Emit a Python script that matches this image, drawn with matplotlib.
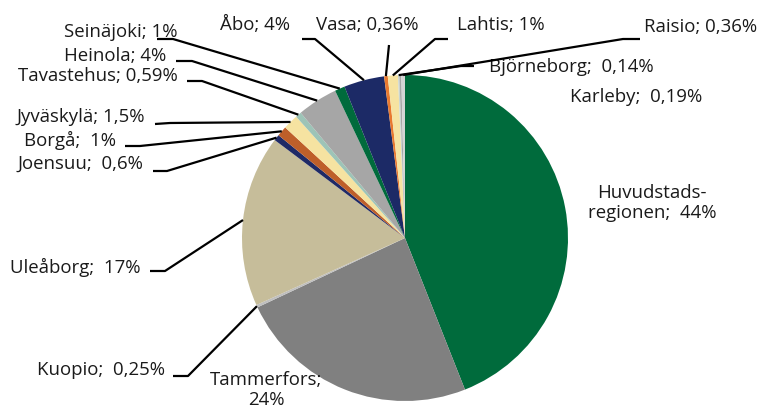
import numpy as np
import matplotlib
matplotlib.use("Agg")
import matplotlib.pyplot as plt

# ---- data ----
labels = ["Huvudstads-\nregionen", "Tammerfors", "Kuopio", "Uleåborg", "Joensuu", "Borgå",
          "Jyväskylä", "Tavastehus", "Heinola", "Seinäjoki", "Åbo", "Vasa", "Lahtis",
          "Björneborg", "Karleby", "Raisio"]
values = [44, 24, 0.25, 17, 0.6, 1, 1.5, 0.59, 4, 1, 4, 0.36, 1, 0.14, 0.19, 0.36]
value_texts = ["44%", "24%", "0,25%", "17%", "0,6%", "1%", "1,5%", "0,59%", "4%", "1%",
               "4%", "0,36%", "1%", "0,14%", "0,19%", "0,36%"]
colors = ["#006B3C", "#808080", "#BFBFBF", "#C6BD9A", "#1F2A66", "#BE5F2A", "#F6E3A1",
          "#9DC4B7", "#A6A6A6", "#006B3C", "#1C2A66", "#E8792F", "#F6E3A1", "#C9D5D1",
          "#A6A6A6", "#D4D4D4"]

W, H = 762, 412
fig = plt.figure(figsize=(W / 100, H / 100), dpi=100)
ax = fig.add_axes([0, 0, 1, 1])

cx, cy, R = 405, H - 238, 163
wedges, _ = ax.pie(values, colors=colors, startangle=90, counterclock=False,
                   center=(cx, cy), radius=R, frame=True,
                   wedgeprops=dict(linewidth=0))
ax.set_xlim(0, W)
ax.set_ylim(0, H)
ax.set_aspect("equal")
ax.axis("off")

FONT = ["Open Sans", "DejaVu Sans"]
TXT = "#1A1A1A"
FS = 13.4

# layout: label text position (pixels from top-left), alignment, leader elbow
layout = {
    0: dict(pos=(652, 203), ha="center", lead=None),
    1: dict(pos=(266, 390), ha="center", lead=None),
    2: dict(pos=(165, 370), ha="right", lead=[(173, 376), (188, 376)]),
    3: dict(pos=(140, 267), ha="right", lead=[(150, 271), (165, 271)]),
    4: dict(pos=(143, 164), ha="right", lead=[(153, 171), (167, 171)]),
    5: dict(pos=(116, 140), ha="right", lead=[(125, 146), (140, 146)]),
    6: dict(pos=(145, 117), ha="right", lead=[(155, 124), (170, 123)]),
    7: dict(pos=(178, 76), ha="right", lead=[(187, 81), (202, 81)]),
    8: dict(pos=(166, 56), ha="right", lead=[(176, 61), (192, 61)]),
    9: dict(pos=(178, 32), ha="right", lead=[(157, 39), (173, 39)]),
    10: dict(pos=(255, 25), ha="center", lead=[(302, 39), (315, 39)]),
    11: dict(pos=(367, 25), ha="center", lead=[(389, 45)]),
    12: dict(pos=(501, 25), ha="center", lead=[(448, 39), (435, 39)]),
    13: dict(pos=(571, 67), ha="center", lead=[(474, 66), (461, 66)]),
    14: dict(pos=(636, 97), ha="center", lead=None),
    15: dict(pos=(701, 27), ha="center", lead=[(640, 39), (623, 39)]),
}

single_space = (6, 7, 8, 9, 10, 11, 12, 15)
for i, w in enumerate(wedges):
    lay = layout[i]
    if i == 1:
        text = labels[i] + ";\n" + value_texts[i]
    elif i in single_space:
        text = labels[i] + "; " + value_texts[i]
    else:
        text = labels[i] + ";  " + value_texts[i]
    x, y = lay["pos"]
    ax.text(x, H - y, text, ha=lay["ha"], va="center", fontsize=FS,
            family=FONT, color=TXT, linespacing=1.2, multialignment="center")
    if lay["lead"]:
        mid = np.deg2rad((w.theta1 + w.theta2) / 2)
        ex, ey = cx + R * np.cos(mid), cy + R * np.sin(mid)
        xs = [p[0] for p in lay["lead"]] + [ex]
        ys = [H - p[1] for p in lay["lead"]] + [ey]
        ax.plot(xs, ys, color="black", lw=1.6, solid_capstyle="butt", zorder=5)

fig.savefig("out.png", dpi=100, facecolor="white")
